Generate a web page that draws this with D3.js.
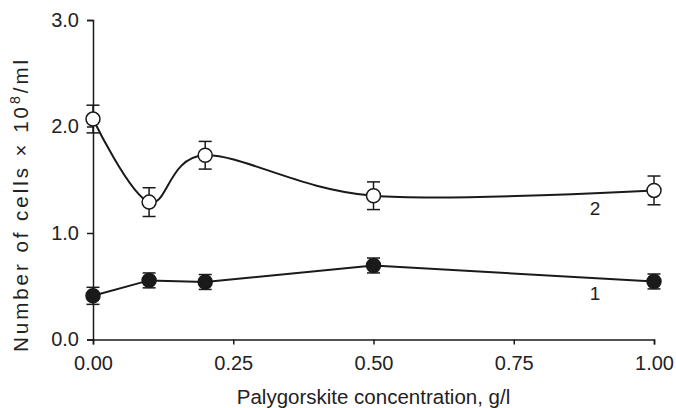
<!DOCTYPE html>
<html>
<head>
<meta charset="utf-8">
<script src="https://cdn.jsdelivr.net/npm/d3@7"></script>
<style>
  body { margin: 0; background: #fff; }
  text { font-family: "Liberation Sans", Arial, sans-serif; fill: #222; }
</style>
</head>
<body>
<svg id="canvas" width="676" height="408"></svg>
<script>
// ---------------------------------------------------------------------------- //
// Data

var conc = [0.0, 0.1, 0.2, 0.5, 1.0];
var series1 = [0.41, 0.555, 0.54, 0.695, 0.545];
var err1 = [0.08, 0.07, 0.07, 0.07, 0.07];
var series2 = [2.07, 1.29, 1.73, 1.35, 1.40];
var err2 = [0.13, 0.135, 0.13, 0.13, 0.135];
var xTicks = [0, 0.25, 0.5, 0.75, 1.0];
var yTicks = [0, 1, 2, 3];

// ---------------------------------------------------------------------------- //
// Scales and axes

var svg = d3.select('#canvas');
var ink = '#1a1a1a';

var x = d3.scaleLinear().domain([0, 1]).range([93, 654]);
var y = d3.scaleLinear().domain([0, 3]).range([339.5, 20]);

var xAxis = svg.append('g').attr('transform', 'translate(0,' + y(0) + ')')
  .call(d3.axisBottom(x).tickValues(xTicks).tickFormat(d3.format('.2f')).tickSizeOuter(0).tickSize(5).tickPadding(11));
var yAxis = svg.append('g').attr('transform', 'translate(' + x(0) + ',0)')
  .call(d3.axisLeft(y).tickValues(yTicks).tickFormat(d3.format('.1f')).tickSizeOuter(0).tickSize(6).tickPadding(8));

[xAxis, yAxis].forEach(function(a){
  a.select('.domain').attr('stroke', ink).attr('stroke-width', 1.5);
  a.selectAll('.tick line').attr('stroke', ink).attr('stroke-width', 1.5);
  a.selectAll('.tick text').style('font-size', '20px').attr('fill', '#222');
});

svg.append('text').attr('x', (x(0) + x(1)) / 2).attr('y', 404)
  .attr('text-anchor', 'middle').style('font-size', '20.5px')
  .text('Palygorskite concentration, g/l');

// y title sits a bit lower than the axis middle in the original
var yt = svg.append('text').attr('transform', 'translate(27.5,206) rotate(-90)')
  .attr('text-anchor', 'middle').style('font-size', '20.5px')
  .attr('textLength', 292).attr('lengthAdjust', 'spacing');
yt.append('tspan').text('Number of cells \u00d7 10');
yt.append('tspan').attr('dy', -8).style('font-size', '14px').text('8');
yt.append('tspan').attr('dy', 8).text('/ml');

// ---------------------------------------------------------------------------- //
// Series

function drawSeries(vals, errs, curve, filled){
  var pts = conc.map(function(c, i){ return { x: c, y: vals[i], e: errs[i] }; });
  var g = svg.append('g');

  var line = d3.line().x(function(d){ return x(d.x); }).y(function(d){ return y(d.y); }).curve(curve);
  g.append('path').attr('d', line(pts)).attr('fill', 'none').attr('stroke', ink).attr('stroke-width', 2);

  // error bars
  pts.forEach(function(d){
    var cx = x(d.x);
    g.append('line').attr('x1', cx).attr('x2', cx).attr('y1', y(d.y - d.e)).attr('y2', y(d.y + d.e))
      .attr('stroke', ink).attr('stroke-width', 1.5);
    [d.y - d.e, d.y + d.e].forEach(function(v){
      g.append('line').attr('x1', cx - 6.5).attr('x2', cx + 6.5).attr('y1', y(v)).attr('y2', y(v))
        .attr('stroke', ink).attr('stroke-width', 1.5);
    });
  });

  g.selectAll('circle').data(pts).enter().append('circle')
    .attr('cx', function(d){ return x(d.x); }).attr('cy', function(d){ return y(d.y); })
    .attr('r', 7)
    .attr('fill', filled ? ink : '#fff').attr('stroke', ink).attr('stroke-width', 1.5);
}

drawSeries(series1, err1, d3.curveLinear, true);
drawSeries(series2, err2, d3.curveCardinal.tension(0), false);

svg.append('text').attr('x', 595).attr('y', 215).attr('text-anchor', 'middle').style('font-size', '19px').text('2');
svg.append('text').attr('x', 595).attr('y', 300).attr('text-anchor', 'middle').style('font-size', '19px').text('1');
</script>
</body>
</html>
